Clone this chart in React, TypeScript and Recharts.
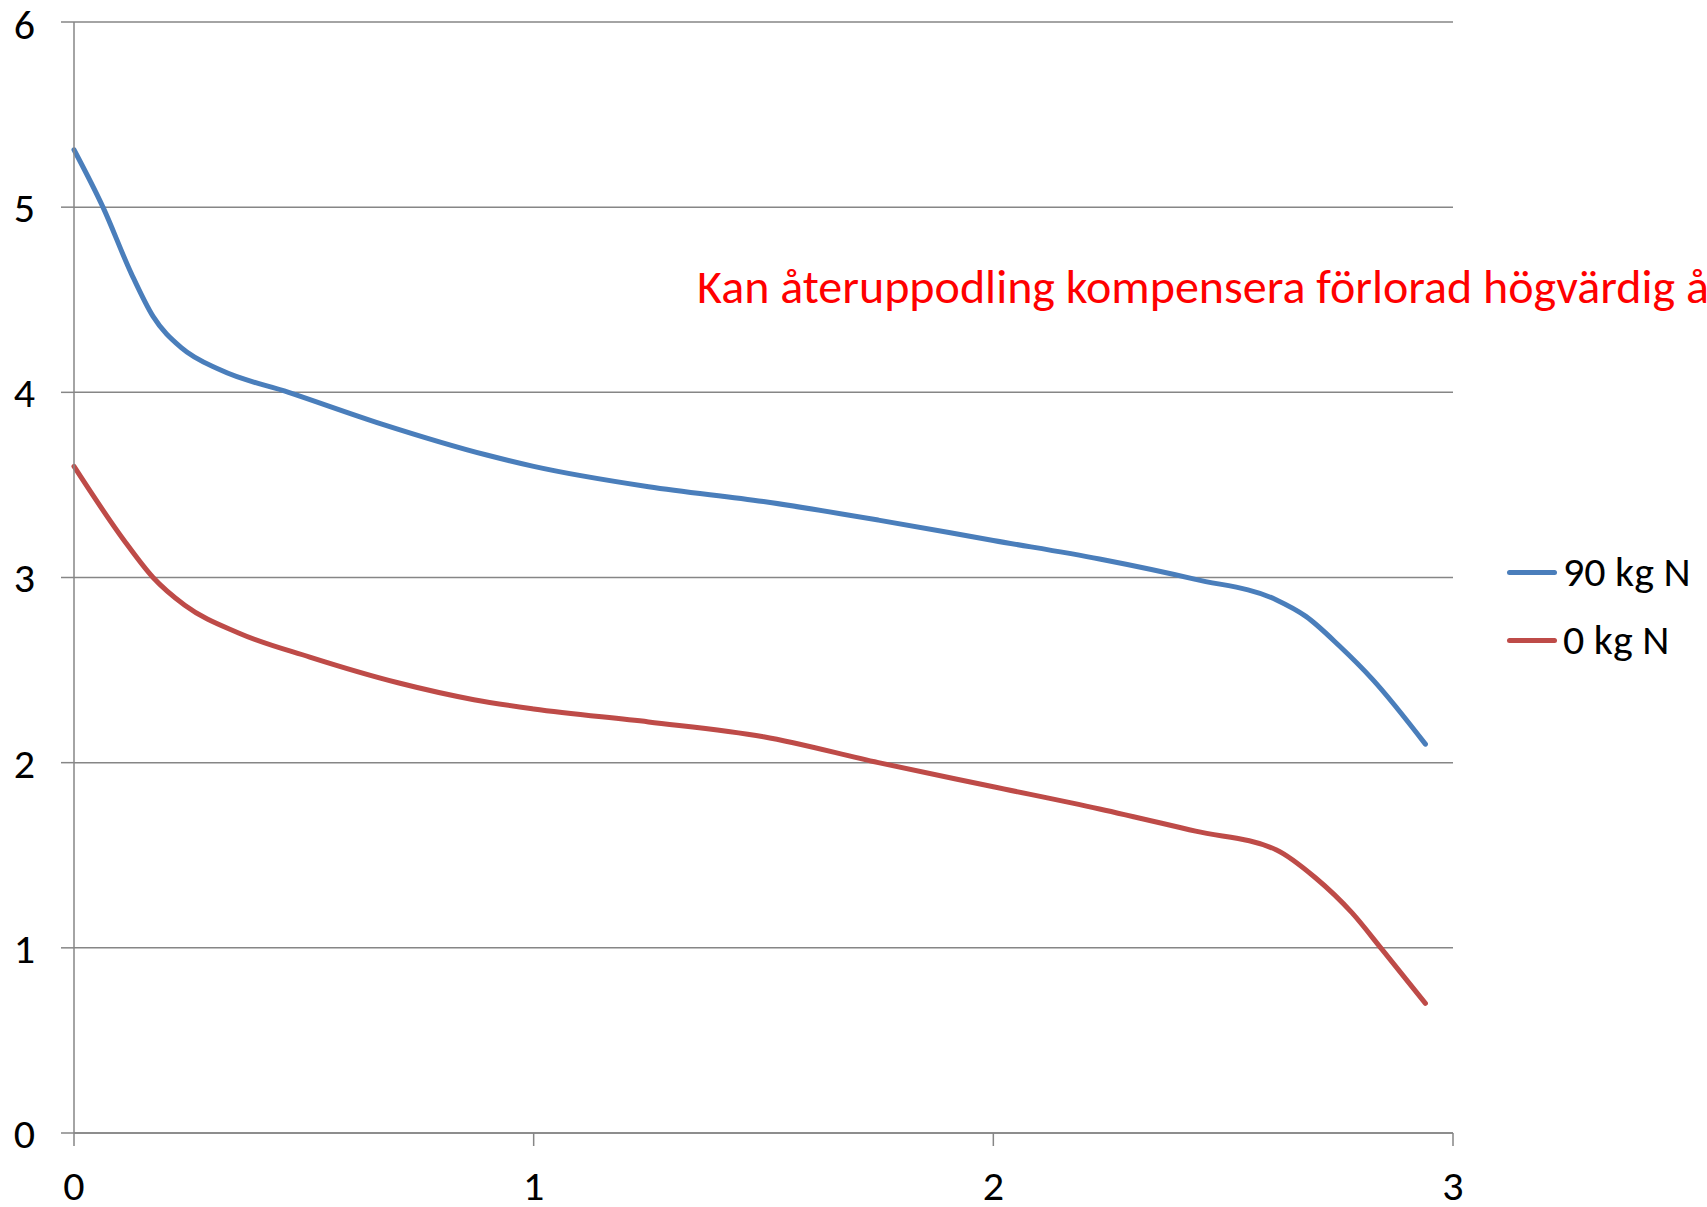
import React from "react";
import { LineChart, Line, XAxis, YAxis, CartesianGrid } from "recharts";

// values
const blueX = [0, 0.063, 0.125, 0.172, 0.234, 0.319, 0.467, 0.668, 0.9, 1.0, 1.25, 1.5, 1.75, 2.0, 2.231, 2.44, 2.615, 2.68, 2.753, 2.825, 2.94];
const blueY = [5.31, 5.0, 4.64, 4.41, 4.24, 4.12, 4.0, 3.83, 3.66, 3.6, 3.49, 3.41, 3.31, 3.2, 3.1, 2.99, 2.88, 2.79, 2.63, 2.45, 2.1];

const redX = [0, 0.109, 0.172, 0.241, 0.358, 0.513, 0.707, 0.87, 1.0, 1.25, 1.5, 1.75, 2.0, 2.231, 2.44, 2.615, 2.7, 2.78, 2.846, 2.94];
const redY = [3.6, 3.2, 3.0, 2.85, 2.7, 2.57, 2.43, 2.34, 2.29, 2.22, 2.14, 2.0, 1.87, 1.75, 1.63, 1.53, 1.38, 1.19, 0.99, 0.7];

const xTicks = [0, 1, 2, 3];
const yTicks = [0, 1, 2, 3, 4, 5, 6];

const seriesNames = ["90 kg N", "0 kg N"];
const title = "Kan återuppodling kompensera förlorad högvärdig å";

const BLUE = "#4A7EBB";
const RED = "#BE4B48";
const GRID = "#868686";
const FONT = "Carlito, Lato, sans-serif";

const blueData = blueX.map((x, i) => ({ x, y: blueY[i] }));
const redData = redX.map((x, i) => ({ x, y: redY[i] }));

const tickStyle = { fill: "#000", fontSize: 42, fontFamily: FONT };

// legend drawn outside the chart so it takes no room from the plot
function ChartLegend() {
  const items = [
    { name: seriesNames[0], color: BLUE },
    { name: seriesNames[1], color: RED },
  ];
  return (
    <div
      style={{
        position: "absolute",
        left: 1507,
        top: 538,
        fontFamily: FONT,
        fontSize: 42,
        color: "#000",
      }}
    >
      {items.map((it) => (
        <div
          key={it.name}
          style={{ display: "flex", alignItems: "center", height: 68 }}
        >
          <div
            style={{
              width: 50,
              height: 5,
              borderRadius: 3,
              background: it.color,
              marginRight: 6,
            }}
          />
          <span style={{ lineHeight: 1, whiteSpace: "nowrap" }}>{it.name}</span>
        </div>
      ))}
    </div>
  );
}

export default function App() {
  return (
    <div
      style={{
        position: "absolute",
        left: 0,
        top: 0,
        width: 1707,
        height: 1207,
        overflow: "hidden",
        background: "#fff",
      }}
    >
      <LineChart
        width={1707}
        height={1207}
        margin={{ top: 22, right: 254, bottom: 0, left: 0 }}
      >
        <CartesianGrid vertical={false} stroke={GRID} strokeWidth={1.5} />
        <XAxis
          type="number"
          dataKey="x"
          domain={[0, 3]}
          ticks={xTicks}
          height={74}
          stroke={GRID}
          strokeWidth={1.5}
          tickSize={13}
          tickMargin={24}
          tick={tickStyle}
          allowDuplicatedCategory={false}
        />
        <YAxis
          type="number"
          domain={[0, 6]}
          ticks={yTicks}
          width={74}
          stroke={GRID}
          strokeWidth={1.5}
          tickSize={13}
          tickMargin={26}
          tick={tickStyle}
        />
        <Line
          data={blueData}
          dataKey="y"
          name={seriesNames[0]}
          type="monotone"
          stroke={BLUE}
          strokeWidth={5}
          strokeLinecap="round"
          dot={false}
          isAnimationActive={false}
        />
        <Line
          data={redData}
          dataKey="y"
          name={seriesNames[1]}
          type="monotone"
          stroke={RED}
          strokeWidth={5}
          strokeLinecap="round"
          dot={false}
          isAnimationActive={false}
        />
      </LineChart>
      <ChartLegend />
      <div
        style={{
          position: "absolute",
          left: 697,
          top: 263,
          fontFamily: FONT,
          fontSize: 48,
          lineHeight: 1,
          color: "#FF0000",
          whiteSpace: "nowrap",
        }}
      >
        {title}
      </div>
    </div>
  );
}
